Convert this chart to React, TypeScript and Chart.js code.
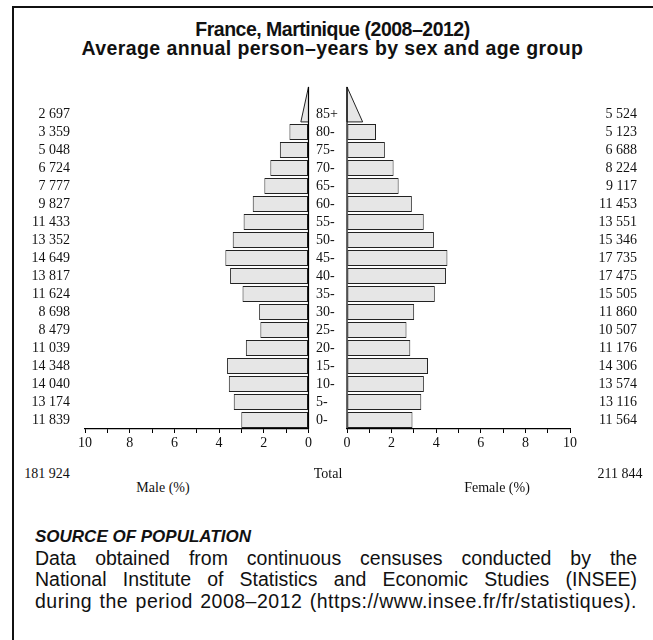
import React, { useEffect, useRef } from 'react';
import { Chart, registerables } from 'chart.js';
Chart.register(...registerables);

// Age groups (bottom to top) and average annual person-years
const ageGroups = ['0-', '5-', '10-', '15-', '20-', '25-', '30-', '35-', '40-', '45-', '50-', '55-', '60-', '65-', '70-', '75-', '80-', '85+'];
const maleCounts = [11839, 13174, 14040, 14348, 11039, 8479, 8698, 11624, 13817, 14649, 13352, 11433, 9827, 7777, 6724, 5048, 3359, 2697];
const femaleCounts = [11564, 13116, 13574, 14306, 11176, 10507, 11860, 15505, 17475, 17735, 15346, 13551, 11453, 9117, 8224, 6688, 5123, 5524];
const xTickLabels = [0, 2, 4, 6, 8, 10];
const openGroupBaseFactor = 0.5; // base of the open-ended triangle relative to its share

const sum = (a: number[]) => a.reduce((s, v) => s + v, 0);
const maleTotal = sum(maleCounts);
const femaleTotal = sum(femaleCounts);
const grandTotal = maleTotal + femaleTotal;
const fmt = (n: number) => String(n).replace(/\B(?=(\d{3})+(?!\d))/g, ' ');

const SERIF = '"Liberation Serif", "Times New Roman", serif';
const SANS = '"Liberation Sans", Arial, Helvetica, sans-serif';

type Side = 'male' | 'female';

function buildChart(canvas: HTMLCanvasElement, side: Side) {
  const counts = side === 'male' ? maleCounts : femaleCounts;
  const labels = [...ageGroups].reverse();
  const countsTopDown = [...counts].reverse();
  const pcts = countsTopDown.map((c) => (c / grandTotal) * 100);
  const openIdx = labels.indexOf('85+');
  const data = pcts.map((p, i) => (i === openIdx ? null : p));

  const overlay = {
    id: 'overlay-' + side,
    afterDraw(chart: any) {
      const { ctx, chartArea, scales } = chart;
      const xs = scales.x;
      const ys = scales.y;
      const row = ys.getPixelForValue(1) - ys.getPixelForValue(0);
      const half = row * 0.44;
      const x0 = xs.getPixelForValue(0);
      ctx.save();
      // open-ended triangle
      const cOpen = ys.getPixelForValue(openIdx);
      const base = cOpen + half;
      const tip = base - 2 * row + 1;
      const xb = xs.getPixelForValue(pcts[openIdx] * openGroupBaseFactor);
      ctx.beginPath();
      ctx.moveTo(x0, tip);
      ctx.lineTo(xb, base);
      ctx.lineTo(x0, base);
      ctx.closePath();
      ctx.fillStyle = '#e6e6e6';
      ctx.fill();
      ctx.strokeStyle = '#222';
      ctx.lineWidth = 1;
      ctx.stroke();
      // vertical axis line
      ctx.beginPath();
      ctx.moveTo(x0, tip);
      ctx.lineTo(x0, chartArea.bottom);
      ctx.strokeStyle = '#000';
      ctx.lineWidth = 1.2;
      ctx.stroke();
      // counts
      ctx.fillStyle = '#111';
      ctx.font = '14px ' + SERIF;
      ctx.textBaseline = 'middle';
      ctx.textAlign = 'right';
      const xText = side === 'male' ? chartArea.left - 15 : chart.width - 16;
      countsTopDown.forEach((c, i) => {
        ctx.fillText(fmt(c), xText, ys.getPixelForValue(i));
      });
      if (side === 'female') {
        ctx.textAlign = 'left';
        labels.forEach((l, i) => {
          ctx.fillText(l, chartArea.left - 31, ys.getPixelForValue(i));
        });
      }
      ctx.restore();
    },
  };

  return new Chart(canvas, {
    type: 'bar',
    data: {
      labels,
      datasets: [
        {
          label: side === 'male' ? 'Male (%)' : 'Female (%)',
          data,
          backgroundColor: '#e6e6e6',
          borderColor: '#222',
          borderWidth: 1,
          borderSkipped: false,
          barPercentage: 0.88,
          categoryPercentage: 1,
        },
      ],
    },
    options: {
      indexAxis: 'y',
      responsive: false,
      animation: false,
      layout: {
        padding: side === 'male'
          ? { left: 71, right: 5, top: 25, bottom: 0 }
          : { left: 47, right: 83, top: 25, bottom: 0 },
      },
      plugins: { legend: { display: false }, tooltip: { enabled: false }, title: { display: false } },
      scales: {
        x: {
          type: 'linear',
          min: 0,
          max: 10,
          reverse: side === 'male',
          grid: { drawOnChartArea: false, drawTicks: true, tickLength: 4, color: '#000', tickColor: '#000' },
          border: { display: true, color: '#000', width: 1.2 },
          ticks: {
            stepSize: 1,
            autoSkip: false,
            maxRotation: 0,
            padding: 2,
            color: '#111',
            font: { family: SERIF, size: 14 },
            callback: (v: any) => (xTickLabels.includes(Number(v)) ? String(v) : ''),
          },
          afterFit: (s: any) => {
            s.height = 30;
          },
        },
        y: { type: 'category', display: false, offset: true },
      },
    } as any,
    plugins: [overlay],
  });
}

function Pyramid() {
  const maleRef = useRef<HTMLCanvasElement>(null);
  const femaleRef = useRef<HTMLCanvasElement>(null);
  useEffect(() => {
    const m = buildChart(maleRef.current!, 'male');
    const f = buildChart(femaleRef.current!, 'female');
    return () => {
      m.destroy();
      f.destroy();
    };
  }, []);
  return (
    <>
      <canvas ref={maleRef} width={300} height={379} style={{ position: 'absolute', left: 14, top: 80, width: 300, height: 379 }} />
      <canvas ref={femaleRef} width={353} height={379} style={{ position: 'absolute', left: 300, top: 80, width: 353, height: 379 }} />
    </>
  );
}

const abs = (x: number, y: number, extra: React.CSSProperties = {}): React.CSSProperties => ({
  position: 'absolute',
  left: x,
  top: y,
  transform: 'translate(-50%, -50%)',
  whiteSpace: 'nowrap',
  ...extra,
});

export default function App() {
  const serifSmall: React.CSSProperties = { fontFamily: SERIF, fontSize: 14, color: '#111' };
  const bodyLine: React.CSSProperties = {
    fontFamily: SANS,
    fontSize: 19.5,
    lineHeight: '21.5px',
    color: '#111',
    whiteSpace: 'nowrap',
    textAlign: 'justify',
    textAlignLast: 'justify',
  } as any;
  return (
    <div style={{ position: 'fixed', left: 0, top: 0, width: 653, height: 640, background: '#fff', overflow: 'hidden' }}>
      <div style={{ position: 'absolute', left: 12, top: 6, width: 800, height: 800, borderLeft: '2px solid #111', borderTop: '2px solid #111' }} />
      <div style={{ position: 'absolute', left: 12, right: 0, top: 20, textAlign: 'center', fontFamily: SANS, fontWeight: 'bold', fontSize: 19.5, lineHeight: '18.5px', color: '#111' }}>
        <div style={{ letterSpacing: '-0.5px' }}>France, Martinique (2008–2012)</div>
        <div style={{ letterSpacing: '0.4px' }}>Average annual person–years by sex and age group</div>
      </div>
      <Pyramid />
      <div style={abs(47, 474, serifSmall)}>{fmt(maleTotal)}</div>
      <div style={abs(328, 474, serifSmall)}>Total</div>
      <div style={abs(620, 474, serifSmall)}>{fmt(femaleTotal)}</div>
      <div style={abs(163, 488, serifSmall)}>Male (%)</div>
      <div style={abs(497, 488, serifSmall)}>Female (%)</div>
      <div style={{ position: 'absolute', left: 35, top: 526, width: 602 }}>
        <div style={{ ...bodyLine, fontSize: 17, fontWeight: 'bold', fontStyle: 'italic', textAlign: 'left', textAlignLast: 'left' } as any}>SOURCE OF POPULATION</div>
        <div style={bodyLine}>Data obtained from continuous censuses conducted by the</div>
        <div style={bodyLine}>National Institute of Statistics and Economic Studies (INSEE)</div>
        <div style={{ ...bodyLine, letterSpacing: '0.5px' }}>during the period 2008–2012 (https://www.insee.fr/fr/statistiques).</div>
      </div>
    </div>
  );
}
